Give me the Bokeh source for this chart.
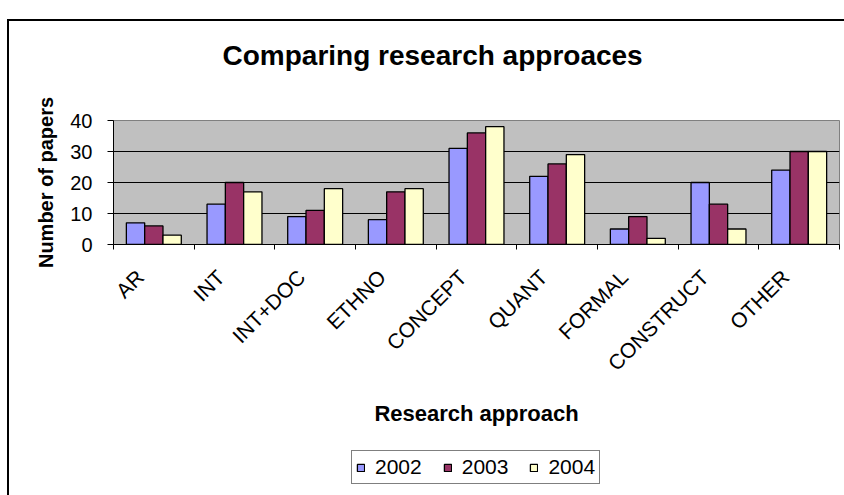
import numpy as np
from bokeh.plotting import figure
from bokeh.layouts import column
from bokeh.models import (Range1d, FixedTicker, ColumnDataSource, Legend, LegendItem, Title,
                          InlineStyleSheet)
from bokeh.transform import dodge
from bokeh.embed import file_html
from bokeh.resources import INLINE

# ---- data ----
categories = ["AR", "INT", "INT+DOC", "ETHNO", "CONCEPT", "QUANT", "FORMAL", "CONSTRUCT", "OTHER"]
years = ["2002", "2003", "2004"]
v2002 = [7, 13, 9, 8, 31, 22, 5, 20, 24]
v2003 = [6, 20, 11, 17, 36, 26, 9, 13, 30]
v2004 = [3, 17, 18, 18, 38, 29, 2, 5, 30]
y_ticks = [0, 10, 20, 30, 40]

colors = ["#9999FF", "#993366", "#FFFFCC"]
FONT = "Liberation Sans"

n = len(categories)
centers = [i + 0.5 for i in range(n)]
src = ColumnDataSource(dict(x=centers, y2002=v2002, y2003=v2003, y2004=v2004))

p = figure(width=844, height=440, output_backend="svg", toolbar_location=None,
           x_range=Range1d(0, n), y_range=Range1d(0, 40),
           min_border_left=113, min_border_right=5, min_border_top=120, min_border_bottom=196,
           background_fill_color="#C0C0C0", border_fill_color="white")
p.outline_line_color = "#808080"
p.outline_line_width = 1

bw = 0.227
for k, (yr, col) in enumerate(zip(years, colors)):
    p.vbar(x=dodge("x", (k - 1) * bw), top="y" + yr, width=bw, source=src,
           fill_color=col, line_color="black", line_width=1.3)

# x axis: labels near category centres, tick marks at category boundaries
shift = 0.17
label_pos = [c - shift for c in centers]
xa = p.xaxis[0]
xa.ticker = FixedTicker(ticks=label_pos, minor_ticks=list(range(n + 1)))
xa.major_label_overrides = {lp: cat for lp, cat in zip(label_pos, categories)}
xa.major_tick_line_color = None
xa.major_tick_out = 5
xa.major_tick_in = 0
xa.minor_tick_line_color = "black"
xa.minor_tick_out = 5
xa.minor_tick_in = 0
xa.major_label_orientation = 0.7854
xa.major_label_standoff = 24
xa.major_label_text_font = FONT
xa.major_label_text_font_size = "21px"
xa.major_label_text_color = "black"
xa.axis_line_color = "black"
xa.axis_label = "Research approach"
xa.axis_label_text_font = FONT
xa.axis_label_text_font_style = "bold"
xa.axis_label_text_font_size = "22px"
xa.axis_label_text_color = "black"
xa.axis_label_standoff = 15

ya = p.yaxis[0]
yt = FixedTicker(ticks=y_ticks, minor_ticks=[])
ya.ticker = yt
ya.major_tick_out = 6
ya.major_tick_in = 0
ya.major_tick_line_color = "black"
ya.minor_tick_line_color = None
ya.major_label_standoff = 15
ya.major_label_text_font = FONT
ya.major_label_text_font_size = "20px"
ya.major_label_text_color = "black"
ya.axis_line_color = "black"
ya.axis_label = "Number of papers"
ya.axis_label_text_font = FONT
ya.axis_label_text_font_style = "bold"
ya.axis_label_text_font_size = "20px"
ya.axis_label_text_color = "black"
ya.axis_label_standoff = 10

p.xgrid.grid_line_color = None
p.ygrid.ticker = yt
p.ygrid.grid_line_color = "black"
p.ygrid.grid_line_width = 1

# spacer between frame and title, then the title (outermost)
p.add_layout(Title(text=" ", text_font_size="1px", standoff=47), "above")
p.title = Title(text="Comparing research approaces", align="left", offset=109,
                standoff=0, text_font=FONT, text_font_style="bold",
                text_font_size="28px", text_color="black")

# ---- legend strip below the chart (frame aligned with the chart's frame) ----
lf = figure(width=844, height=55, output_backend="svg", toolbar_location=None,
            x_axis_type=None, y_axis_type=None, x_range=Range1d(0, 1), y_range=Range1d(0, 1),
            min_border=0, border_fill_color="white", background_fill_color="white")
lf.outline_line_color = None
lf.grid.visible = False
legend_src = ColumnDataSource(dict(x=np.array([np.nan]), top=np.array([np.nan])))
items = []
for yr, col in zip(years, colors):
    r = lf.vbar(x="x", top="top", width=0.1, source=legend_src,
                fill_color=col, line_color="black", line_width=1.3)
    items.append(LegendItem(label=yr, renderers=[r]))
legend = Legend(items=items, orientation="horizontal", location=(238, 11),
                border_line_color="black", border_line_width=1,
                background_fill_color="white", background_fill_alpha=1,
                label_text_font=FONT, label_text_font_size="21px", label_text_color="black",
                glyph_width=9, glyph_height=9, label_standoff=10, spacing=21,
                padding=4, margin=0)
lf.add_layout(legend)

layout = column(p, lf, spacing=0)
# chart-area frame line (left and top edges visible in the window)
layout.stylesheets = [InlineStyleSheet(css=(
    ":host { position: relative; }"
    ":host::after { content: ''; position: absolute; left: 7px; top: 19px; right: 0; bottom: 0;"
    " border-left: 2px solid black; border-top: 2px solid black; pointer-events: none; }"))]

open("out.html", "w").write(file_html(layout, INLINE))
